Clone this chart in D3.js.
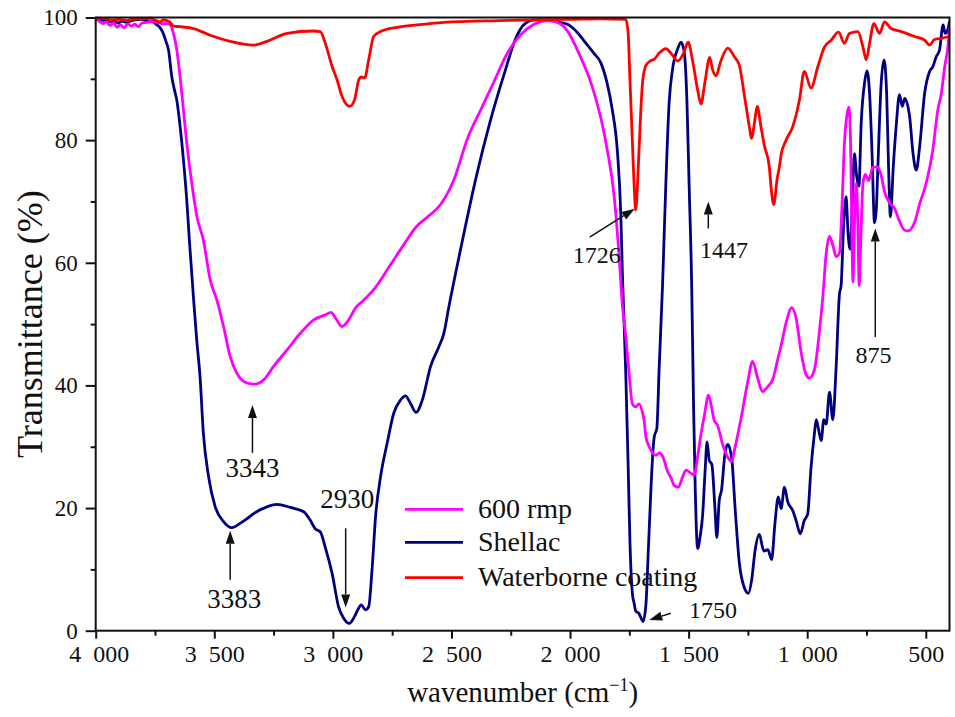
<!DOCTYPE html>
<html>
<head>
<meta charset="utf-8">
<script src="https://cdn.jsdelivr.net/npm/d3@7/dist/d3.min.js"></script>
<style>
  html, body { margin: 0; padding: 0; background: #fff; }
  svg { display: block; }
  text { font-family: "Liberation Serif", "Times New Roman", serif; fill: #111; }
</style>
</head>
<body>
<svg id="chart" width="955" height="717"></svg>
<script>
// FTIR spectra: wavenumber (cm-1) and transmittance (%)
const shellacWn = [4000,3985,3960,3940,3925,3905,3890,3870,3855,3835,3810,3785,3760,3742,3728,3715,3703,3693,3679,3668,3658,3644,3630,3616,3605,3587,3574,3560,3546,3524,3496,3461,3426,3391,3360,3334,3278,3236,3179,3123,3095,3074,3053,3032,3003,2976,2954,2930,2909,2895,2880,2863,2849,2834,2820,2799,2771,2743,2715,2694,2673,2649,2623,2588,2553,2532,2511,2462,2398,2335,2272,2230,2190,2150,2095,2053,2011,1970,1941,1900,1870,1845,1822,1800,1786,1779,1765,1755,1747,1737,1730,1723,1709,1692,1680,1671,1659,1650,1645,1634,1624,1610,1596,1582,1568,1546,1532,1518,1507,1498,1487,1479,1472,1462,1451,1441,1431,1422,1413,1402,1389,1381,1371,1361,1347,1335,1318,1304,1286,1265,1248,1234,1220,1202,1183,1166,1150,1136,1122,1110,1096,1082,1061,1047,1029,1012,998,984,970,962,953,941,930,920,906,892,878,864,857,847,836,828,819,810,801,791,782,772,758,748,737,727,716,709,702,688,676,665,657,649,637,625,611,599,589,568,554,540,526,505,484,470,456,442,427,418,406,400];
const shellacT  = [99.7,99.6,99.5,99.3,99.5,99.1,99.4,99.2,99.4,99.6,99.7,99.5,99.3,98.8,98.3,97.4,96.0,94.7,90.3,88.2,86.5,82.2,76.8,70.2,63.7,53.9,47.4,41.4,32.2,25.1,20.2,17.8,16.8,17.5,18.3,19.1,20.2,20.6,20.1,19.4,18.0,16.6,16.1,13.6,9.3,3.9,2.0,1.2,2.3,3.4,4.2,3.4,3.9,10.4,18.6,25.1,30.6,35.5,37.6,38.3,37.1,35.6,37.6,43.1,46.3,48.5,52.8,62.1,73.6,83.3,91.5,96.5,99.0,99.6,99.6,99.3,98.9,97.6,96.2,94.2,92.6,89.5,85,78,68,58,42,27,14,6,4.5,3.2,2.8,1.5,4.3,12,23,29.5,31.6,33,43,56.3,72.9,86.2,91.5,94.9,96,94.2,86.2,72.9,56.3,36.3,23,13.4,15.5,18.8,25.7,30.8,27.8,27.1,20,15.2,21.2,23,28.8,30.4,28,20,11,7,6.1,8.3,13,15.7,13,13.2,11.6,17.5,21.8,19.9,23.4,21,19.6,18,15.8,18,19,26.5,32,34.4,33,31,34.4,33.7,38.9,34.4,43,54.9,56.3,65.6,70.8,65,62.2,69.6,77.8,74,72.5,83,89.4,91.3,87.6,78.4,66.5,68.5,75.7,89.3,93.1,87.6,75.7,67.5,75.7,82.2,87.4,85.5,86.8,83.8,77.9,75.1,78.9,87.6,91.2,92,93.6,94.7,98.8,97.4,98.2,99.4];

const rmpWn = [4000,3985,3970,3955,3940,3925,3910,3895,3880,3865,3850,3835,3820,3805,3785,3760,3740,3720,3700,3686,3672,3658,3644,3630,3616,3595,3573,3546,3517,3489,3461,3433,3405,3362,3330,3292,3250,3193,3137,3081,3032,3008,2989,2961,2933,2905,2870,2820,2760,2700,2650,2600,2546,2490,2433,2377,2321,2264,2208,2152,2095,2053,2011,1997,1955,1913,1870,1842,1814,1793,1779,1765,1751,1737,1723,1709,1694,1688,1680,1666,1652,1638,1624,1610,1603,1589,1575,1561,1544,1525,1511,1491,1476,1462,1448,1434,1416,1406,1392,1378,1356,1335,1318,1307,1279,1251,1230,1209,1188,1166,1145,1124,1110,1089,1065,1047,1026,1005,991,970,948,934,920,906,892,878,864,853,843,832,824,817,812,807,801,793,786,781,772,765,755,741,723,702,688,674,653,632,611,589,575,547,526,498,470,449,435,420,406,400];
const rmpT  = [99.7,99.4,99.0,99.3,98.7,99.1,98.4,98.8,98.3,99.0,98.6,98.9,98.5,99.1,99.2,99.4,99.2,99.0,99.0,98.8,97.4,94.7,90.3,84.9,79.5,73,67.5,63.7,57.2,53.9,49.6,44.7,42,40.4,40.2,40.9,43.1,45.8,48.5,50.7,51.5,51.9,51.0,49.6,50.7,52.6,53.9,56,59.5,63,65.8,67.5,69.5,73.5,80.2,84.9,89.5,94.2,97.2,98.9,99.5,99.2,97.8,96.9,93.5,89.5,83.6,78.2,70.9,61,53,48,42,37,36.5,37,35.5,34.4,31.6,30,29,28.6,29,28.5,27.8,26,25,23.7,23.4,25.1,26.2,25.7,25.4,28.4,32,35,38.4,37,34.3,33.5,30.3,28.3,27.6,29.4,34.6,40.5,43.9,41.2,39,39.8,41,44.3,46.5,50.2,52.7,51,45.5,41.8,41.2,42.5,49,54.5,61.5,64.3,62.9,61,61.6,69.6,79.5,84.2,85.4,79.5,66.2,56.9,66.2,72.9,65.6,56.3,66.2,72.9,74.4,73.4,75.6,75.6,74.2,71.6,69.8,68.9,66.8,65.3,65.2,66.6,69.6,73,78.5,85,87.5,92,95.5,98.5];

const waterWn = [4000,3960,3930,3900,3870,3850,3820,3800,3771,3750,3728,3715,3700,3686,3672,3644,3587,3517,3433,3334,3278,3193,3081,3053,3032,3003,2982,2961,2929,2909,2891,2880,2866,2849,2828,2799,2729,2644,2532,2300,2000,1870,1765,1755,1747,1737,1730,1723,1713,1704,1694,1680,1662,1645,1624,1596,1575,1546,1521,1502,1483,1462,1448,1431,1411,1399,1385,1364,1335,1307,1286,1265,1244,1235,1220,1211,1195,1181,1160,1152,1141,1127,1117,1110,1089,1061,1033,1012,984,955,927,899,868,843,822,786,765,751,737,719,695,674,646,603,547,505,484,463,435,400];
const waterT  = [99.9,99.8,99.6,99.7,99.5,99.7,99.8,99.8,99.9,99.6,99.3,99.6,99.5,99.2,98.6,98.5,98.2,97.1,96.1,95.5,96.1,97.4,97.8,97.7,95.8,92,89.8,87.1,85.5,86.5,89.8,90.3,90.1,93.1,96.9,97.7,98.4,98.8,99.2,99.5,99.7,99.8,99.7,97.5,89.5,79.6,72.9,68.6,74.9,82.9,89.5,92.2,92.9,93.2,94.2,94.9,94.2,92.9,94.2,96,92.9,88.2,85.9,89.5,93.5,91.5,90.5,92.9,95,93.6,92.2,87.3,82.2,80.3,83.5,85.5,82.2,79.2,75.7,72.2,69.5,73.6,75.7,77.6,80,82.2,86.5,91.2,88.5,92,95.2,96.3,97.6,95.8,97.4,97.7,95.2,93.1,95.8,99,97.4,99.3,98.2,97.7,96.9,96.3,95.5,96.4,96.6,96.9];

const seriesNames  = ["600 rmp", "Shellac", "Waterborne coating"];
const seriesColors = ["#ff00ff", "#000080", "#ff0000"];

const xTicks      = [4000, 3500, 3000, 2500, 2000, 1500, 1000, 500];
const xTickLabels = ["4\u2002000", "3\u2002500", "3\u2002000", "2\u2002500", "2\u2002000", "1\u2002500", "1\u2002000", "500"];
const xMinorTicks = [3750, 3250, 2750, 2250, 1750, 1250, 750];
const yTicks      = [0, 20, 40, 60, 80, 100];
const yMinorTicks = [10, 30, 50, 70, 90];

// band assignments marked on the plot
const bandLabels = ["3343", "3383", "2930", "1726", "1447", "875", "1750"];

const svg = d3.select("#chart");
const padL = 95.7, padR = 949.5, padT = 17.5, padB = 630.7;

const x = d3.scaleLinear().domain([4000, 400]).range([padL, padR]);
const y = d3.scaleLinear().domain([0, 100]).range([padB, padT]);

svg.append("defs").append("clipPath").attr("id", "plotClip")
  .append("rect").attr("x", padL).attr("y", padT - 2)
  .attr("width", padR - padL).attr("height", padB - padT + 2);

// spectra
const series = [
  { wn: rmpWn, t: rmpT },
  { wn: shellacWn, t: shellacT },
  { wn: waterWn, t: waterT }
];
const line = d3.line()
  .x(d => x(d[0]))
  .y(d => y(d[1]))
  .curve(d3.curveMonotoneX);

const plot = svg.append("g").attr("clip-path", "url(#plotClip)");
// draw order: shellac, 600 rmp, waterborne on top
[1, 0, 2].forEach(i => {
  const pts = series[i].wn.map((w, k) => [w, series[i].t[k]]);
  plot.append("path")
    .datum(pts)
    .attr("d", line)
    .attr("fill", "none")
    .attr("stroke", seriesColors[i])
    .attr("stroke-width", 2.8)
    .attr("stroke-linejoin", "round");
});

// axes
const xAxis = svg.append("g").attr("transform", `translate(0,${padB})`)
  .call(d3.axisBottom(x).tickValues(xTicks).tickFormat((d, i) => xTickLabels[i])
    .tickSize(8).tickSizeOuter(0));
xAxis.select(".domain").remove();
xAxis.selectAll(".tick line").attr("stroke", "#111").attr("stroke-width", 2);
xAxis.selectAll(".tick text").attr("y", 31).attr("dy", 0)
  .attr("dx", (d, i) => i === 0 ? 3 : 0)
  .style("font-size", "24px").style("font-family", "'Liberation Serif', serif").attr("fill", "#111");

const xMinor = svg.append("g").attr("transform", `translate(0,${padB})`)
  .call(d3.axisBottom(x).tickValues(xMinorTicks).tickFormat("").tickSize(5).tickSizeOuter(0));
xMinor.select(".domain").remove();
xMinor.selectAll(".tick line").attr("stroke", "#111").attr("stroke-width", 2);

const yAxis = svg.append("g").attr("transform", `translate(${padL},0)`)
  .call(d3.axisLeft(y).tickValues(yTicks).tickSize(10).tickPadding(8).tickSizeOuter(0));
yAxis.select(".domain").remove();
yAxis.selectAll(".tick line").attr("stroke", "#111").attr("stroke-width", 2);
yAxis.selectAll(".tick text")
  .style("font-size", "23px").style("font-family", "'Liberation Serif', serif").attr("fill", "#111");

const yMinor = svg.append("g").attr("transform", `translate(${padL},0)`)
  .call(d3.axisLeft(y).tickValues(yMinorTicks).tickFormat("").tickSize(5).tickSizeOuter(0));
yMinor.select(".domain").remove();
yMinor.selectAll(".tick line").attr("stroke", "#111").attr("stroke-width", 2);

// frame
svg.append("rect")
  .attr("x", padL).attr("y", padT)
  .attr("width", padR - padL).attr("height", padB - padT)
  .attr("fill", "none").attr("stroke", "#111").attr("stroke-width", 2);

// axis titles
const xTitle = svg.append("text")
  .attr("x", (padL + padR) / 2).attr("y", 702)
  .attr("text-anchor", "middle").style("font-size", "29px");
xTitle.append("tspan").text("wavenumber (cm");
xTitle.append("tspan").text("\u22121").attr("dy", -11).style("font-size", "18px");
xTitle.append("tspan").text(")").attr("dy", 11);

svg.append("text")
  .attr("transform", `translate(42,${(padT + padB) / 2}) rotate(-90)`)
  .attr("text-anchor", "middle").style("font-size", "36px")
  .text("Transmittance (%)");

// legend
const legend = svg.append("g");
const legendRowsY = [509.3, 542.3, 577.7];
seriesNames.forEach((name, i) => {
  legend.append("line")
    .attr("x1", 405).attr("x2", 463)
    .attr("y1", legendRowsY[i]).attr("y2", legendRowsY[i])
    .attr("stroke", seriesColors[i]).attr("stroke-width", 2.8);
  legend.append("text")
    .attr("x", 478).attr("y", legendRowsY[i] + 8.5)
    .style("font-size", "28px").text(name);
});

// band annotations
const ann = svg.append("g");
function arrow(w1, t1, w2, t2) {
  const x1 = x(w1), y1 = y(t1), x2 = x(w2), y2 = y(t2);
  const dx = x2 - x1, dy = y2 - y1, len = Math.hypot(dx, dy);
  const ux = dx / len, uy = dy / len;
  const headL = 13, headW = 4.5;
  const bx = x2 - ux * headL, by = y2 - uy * headL;
  ann.append("line").attr("x1", x1).attr("y1", y1).attr("x2", bx).attr("y2", by)
    .attr("stroke", "#111").attr("stroke-width", 1.5);
  ann.append("path")
    .attr("d", `M${x2},${y2}L${bx - uy * headW},${by + ux * headW}L${bx + uy * headW},${by - ux * headW}Z`)
    .attr("fill", "#111");
}
function label(txt, w, t, size, anchor) {
  ann.append("text").attr("x", x(w)).attr("y", y(t))
    .attr("text-anchor", anchor || "middle").style("font-size", size + "px").text(txt);
}

// 3343 (600 rmp O-H)
arrow(3339, 29.0, 3339, 36.8);
label(bandLabels[0], 3339, 25.1, 27);
// 3383 (shellac O-H)
arrow(3433, 8.3, 3433, 16.3);
label(bandLabels[1], 3416, 3.7, 27);
// 2930 (C-H)
arrow(2946, 16.7, 2946, 3.8);
label(bandLabels[2], 2939, 20.0, 27);
// 1726 (C=O, waterborne)
arrow(1917, 64.2, 1727, 68.8);
label(bandLabels[3], 1887, 60.0, 24);
// 1447
arrow(1417, 65.6, 1417, 70.0);
label(bandLabels[4], 1351, 60.8, 24);
// 875
arrow(713, 47.9, 713, 65.6);
label(bandLabels[5], 720, 43.7, 24);
// 1750 (C=O, shellac)
arrow(1575, 2.85, 1666, 1.75);
label(bandLabels[6], 1498, 2.0, 24, "start");
</script>
</body>
</html>
